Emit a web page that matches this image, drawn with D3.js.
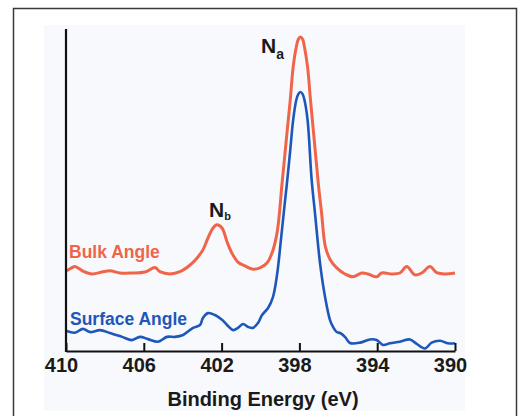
<!DOCTYPE html>
<html>
<head>
<meta charset="utf-8">
<script src="https://cdn.jsdelivr.net/npm/d3@7"></script>
<style>
  html, body { margin: 0; padding: 0; background: #fff; }
  svg text { font-family: "Liberation Sans", Arial, sans-serif; font-weight: bold; }
</style>
</head>
<body>
<div id="chart"></div>
<script>
// binding energy (eV) and intensity (a.u.)
const bulkEnergy = [409.96, 409.71, 409.54, 409.13, 408.66, 408.15, 407.74, 407.22, 406.56, 405.94,
  405.42, 405.17, 404.65, 404.14, 403.62, 403.26, 402.96, 402.70, 402.44, 402.24,
  401.98, 401.72, 401.47, 401.16, 400.80, 400.39, 400.03, 399.67, 399.41, 399.15,
  398.89, 398.64, 398.47, 398.32, 398.16, 398.05, 397.95, 397.84, 397.74, 397.58,
  397.43, 397.27, 397.02, 396.86, 396.66, 396.40, 396.08, 395.66, 395.24, 394.80,
  394.47, 394.03, 393.77, 393.25, 392.83, 392.48, 392.06, 391.71, 391.29, 390.94,
  390.51, 390.0]
const bulkIntensity = [25.0, 25.9, 26.3, 24.9, 24.0, 24.6, 25.0, 24.3, 24.3, 24.6,
  26.0, 24.7, 24.0, 24.7, 26.8, 29.0, 31.5, 35.2, 38.3, 39.3,
  38.3, 34.0, 30.5, 27.7, 26.5, 25.5, 25.9, 27.4, 30.5, 36.8,
  52.3, 67.9, 78.2, 88.5, 94.7, 97.2, 97.8, 97.2, 94.7, 88.5,
  78.2, 67.9, 51.7, 43.0, 32.4, 28.3, 25.9, 24.0, 23.1, 24.3,
  24.0, 23.1, 24.3, 24.0, 24.3, 26.3, 23.7, 24.3, 26.3, 24.4,
  24.0, 24.3]

const surfaceEnergy = [409.96, 409.54, 409.13, 408.77, 408.25, 407.74, 407.12, 406.61, 406.20, 405.78,
  405.27, 404.81, 404.40, 403.98, 403.47, 403.11, 402.96, 402.70, 402.34, 401.98,
  401.72, 401.41, 401.16, 400.90, 400.64, 400.39, 400.13, 399.92, 399.61, 399.36,
  399.15, 398.95, 398.79, 398.64, 398.47, 398.32, 398.16, 398.05, 397.95, 397.84,
  397.74, 397.58, 397.37, 397.20, 396.94, 396.68, 396.43, 396.27, 396.08, 395.91,
  395.66, 395.40, 394.88, 394.37, 394.03, 393.70, 393.34, 392.83, 392.31, 391.97,
  391.54, 391.20, 390.77, 390.36, 390.0]
const surfaceIntensity = [6.2, 5.7, 6.9, 5.9, 6.5, 5.6, 4.4, 3.4, 4.4, 3.7,
  2.9, 4.4, 4.4, 5.0, 7.2, 8.1, 10.3, 11.8, 11.2, 9.7,
  8.1, 6.5, 7.2, 8.4, 7.5, 7.2, 8.7, 11.2, 13.4, 16.8,
  23.7, 34.6, 43.9, 52.3, 62.6, 72.0, 78.2, 80.1, 80.7, 80.1,
  78.2, 72.0, 53.3, 43.0, 27.4, 16.8, 9.7, 7.5, 5.9, 5.6,
  4.4, 2.5, 2.6, 3.6, 3.4, 1.9, 2.4, 2.9, 3.6, 2.2,
  0.8, 2.6, 3.2, 2.4, 2.4]

const xTicks = [410, 406, 402, 398, 394, 390]

const W = 520, H = 416
const bulkColor = '#f0644a'
const surfColor = '#1d57ba'

const svg = d3.select('#chart').append('svg')
  .attr('width', W)
  .attr('height', H)

// outer frame and light panel
svg.append('rect')
  .attr('x', 44).attr('y', 25).attr('width', 421).attr('height', 386)
  .attr('fill', '#f8f9fc')
svg.append('path')
  .attr('d', `M13.5,${H + 5} V8.5 H516.5 V${H + 5}`)
  .attr('fill', 'none')
  .attr('stroke', '#3a3a3a')
  .attr('stroke-width', 1.5)

const x = d3.scaleLinear().domain([410, 390]).range([66, 455])
const y = d3.scaleLinear().domain([0, 100]).range([351, 30])

const line = d3.line()
  .x(d => x(d[0]))
  .y(d => y(d[1]))
  .curve(d3.curveCatmullRom.alpha(0.5))

const bulk = bulkEnergy.map((e, i) => [e, bulkIntensity[i]])
const surf = surfaceEnergy.map((e, i) => [e, surfaceIntensity[i]])

svg.append('path')
  .datum(bulk)
  .attr('d', line)
  .attr('fill', 'none')
  .attr('stroke', bulkColor)
  .attr('stroke-width', 3)
  .attr('stroke-linejoin', 'round')

svg.append('path')
  .datum(surf)
  .attr('d', line)
  .attr('fill', 'none')
  .attr('stroke', surfColor)
  .attr('stroke-width', 2.6)
  .attr('stroke-linejoin', 'round')

// axes
const xAxis = svg.append('g')
  .attr('transform', `translate(0,${y(0)})`)
  .call(d3.axisBottom(x).tickValues(xTicks).tickSizeInner(-8).tickSizeOuter(0).tickFormat(d3.format('d')))
xAxis.select('.domain').attr('stroke', '#111').attr('stroke-width', 2.2)
xAxis.selectAll('.tick line').attr('stroke', '#111').attr('stroke-width', 2)
xAxis.selectAll('.tick text')
  .attr('y', 21)
  .attr('dy', 0)
  .attr('dx', -5)
  .attr('fill', '#1a1a1a')
  .style('font-size', '20px')
  .style('font-family', '"Liberation Sans", Arial, sans-serif')
  .style('font-weight', 'bold')

svg.append('line')
  .attr('x1', x(410)).attr('x2', x(410))
  .attr('y1', 29).attr('y2', y(0) + 1)
  .attr('stroke', '#111')
  .attr('stroke-width', 2.2)

svg.append('text')
  .attr('x', 263).attr('y', 406)
  .attr('text-anchor', 'middle')
  .attr('fill', '#1a1a1a')
  .style('font-size', '20px')
  .text('Binding Energy (eV)')

// series labels
svg.append('text')
  .attr('x', 69).attr('y', 258)
  .attr('fill', bulkColor)
  .style('font-size', '17.5px')
  .text('Bulk Angle')
svg.append('text')
  .attr('x', 70).attr('y', 325)
  .attr('fill', surfColor)
  .style('font-size', '17.5px')
  .text('Surface Angle')

// peak labels
const na = svg.append('text').attr('x', 261).attr('y', 53).attr('fill', '#1a1a1a').style('font-size', '21px')
na.append('tspan').text('N')
na.append('tspan').attr('dy', 6).style('font-size', '14px').text('a')

const nb = svg.append('text').attr('x', 209).attr('y', 217).attr('fill', '#1a1a1a').style('font-size', '21px')
nb.append('tspan').text('N')
nb.append('tspan').attr('dy', 3).style('font-size', '11px').text('b')
</script>
</body>
</html>
